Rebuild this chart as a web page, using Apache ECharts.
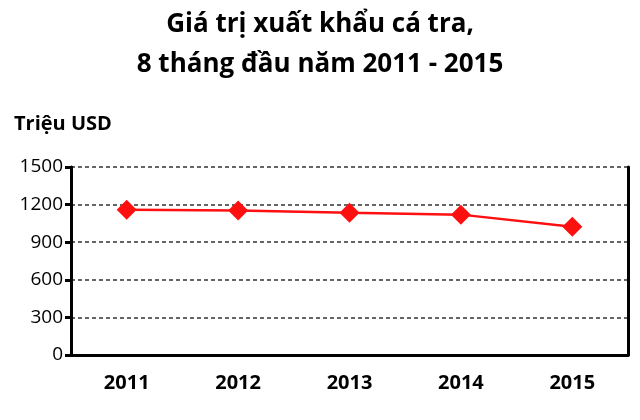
<!DOCTYPE html>
<html>
<head>
<meta charset="utf-8">
<script src="https://cdn.jsdelivr.net/npm/echarts@6/dist/echarts.min.js"></script>
<style>html,body{margin:0;padding:0;background:#fff}#chart{width:640px;height:420px}</style>
</head>
<body>
<div id="chart"></div>
<script>
var years = ['2011', '2012', '2013', '2014', '2015'];
var exportValues = [1158, 1152, 1134, 1120, 1024];
var yTicks = [0, 300, 600, 900, 1200, 1500];

var chart = echarts.init(document.getElementById('chart'));
var option = {
  animation: false,
  textStyle: { fontFamily: 'Open Sans' },
  title: {
    text: 'Giá trị xuất khẩu cá tra,\n8 tháng đầu năm 2011 - 2015',
    left: 'center',
    top: 0,
    textStyle: { fontSize: 26, fontWeight: 'bold', color: '#000', lineHeight: 40, fontFamily: 'Open Sans' }
  },
  graphic: [{
    type: 'text', left: 14, top: 114,
    style: { text: 'Triệu USD', font: 'bold 20px "Open Sans"', fill: '#000' }
  }],
  grid: { left: 71, right: 12, top: 167, bottom: 65 },
  xAxis: {
    type: 'category',
    data: years,
    axisLine: { lineStyle: { color: '#000', width: 3 } },
    axisTick: { show: false },
    axisLabel: { fontSize: 20, fontWeight: 'bold', color: '#000', margin: 18 }
  },
  yAxis: [{
    type: 'value',
    min: yTicks[0], max: yTicks[yTicks.length - 1], interval: 300,
    axisLine: { show: true, lineStyle: { color: '#000', width: 3 } },
    axisTick: { show: true, length: 6, lineStyle: { color: '#000', width: 3 } },
    axisLabel: { fontSize: 19, color: '#000', margin: 8, formatter: function (v) { return String(v); } },
    splitLine: { lineStyle: { color: '#333', type: [4, 3], width: 1.5 } }
  }, {
    type: 'value', position: 'right',
    min: yTicks[0], max: yTicks[yTicks.length - 1], interval: 300,
    axisLine: { show: true, lineStyle: { color: '#000', width: 3 } },
    axisTick: { show: false }, axisLabel: { show: false }, splitLine: { show: false }
  }],
  series: [{
    type: 'line',
    data: exportValues,
    symbol: 'diamond',
    symbolSize: 20,
    lineStyle: { color: '#ff1010', width: 2.5 },
    itemStyle: { color: '#ff1010' }
  }]
};
chart.setOption(option);
</script>
</body>
</html>
